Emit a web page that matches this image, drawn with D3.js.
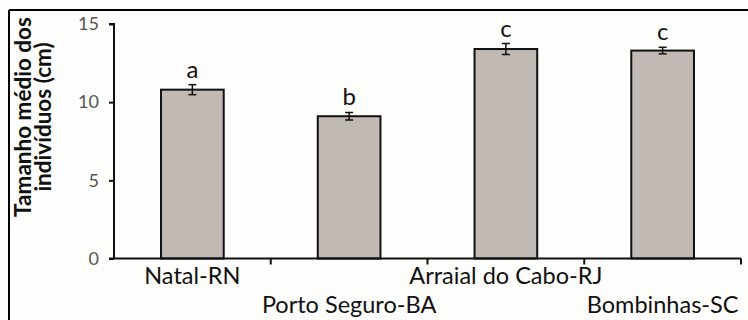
<!DOCTYPE html>
<html lang="pt">
<head>
    <meta charset="UTF-8">
    <style>
        body { margin: 0; background: #fdfdfb; }
        svg { display: block; font-family: Lato, "Open Sans", sans-serif; }
        .bars rect { fill: #c1b9b4; stroke: #111; stroke-width: 2px; }
        .err line { stroke: #111; stroke-width: 1.5px; }
    </style>
    <title>Tamanho médio</title>
</head>
<body>
<script src="https://d3js.org/d3.v7.min.js"></script>
<script>
    // data
    var sites = ['Natal-RN', 'Porto Seguro-BA', 'Arraial do Cabo-RJ', 'Bombinhas-SC'];
    var means = [10.8, 9.1, 13.4, 13.3];
    var errors = [0.32, 0.24, 0.35, 0.21];
    var groups = ['a', 'b', 'c', 'c'];
    var yTicks = [0, 5, 10, 15];

    var width = 748, height = 320;
    var margin = {left: 114, right: 7, top: 24, bottom: 61.5};

    var svg = d3.select('body').append('svg')
        .attr('width', width)
        .attr('height', height);

    // frame (left and top edges only visible)
    svg.append('line').attr('x1', 9).attr('x2', 9).attr('y1', 10).attr('y2', height)
        .attr('stroke', '#000').attr('stroke-width', 2);
    svg.append('line').attr('x1', 9).attr('x2', width).attr('y1', 10).attr('y2', 10)
        .attr('stroke', '#000').attr('stroke-width', 2);

    var x = d3.scaleBand()
        .domain(sites)
        .range([margin.left, width - margin.right])
        .paddingInner(0.6)
        .paddingOuter(0.3);

    var y = d3.scaleLinear()
        .domain([0, 15])
        .range([height - margin.bottom, margin.top]);

    svg.append('g').attr('class', 'bars')
        .selectAll('rect')
        .data(sites)
        .enter()
        .append('rect')
        .attr('x', function (d) { return x(d); })
        .attr('width', x.bandwidth())
        .attr('y', function (d, i) { return y(means[i]); })
        .attr('height', function (d, i) { return y(0) - y(means[i]); });

    var err = svg.append('g').attr('class', 'err')
        .selectAll('g')
        .data(sites)
        .enter()
        .append('g');

    err.append('line')
        .attr('x1', function (d) { return x(d) + x.bandwidth() / 2; })
        .attr('x2', function (d) { return x(d) + x.bandwidth() / 2; })
        .attr('y1', function (d, i) { return y(means[i] + errors[i]); })
        .attr('y2', function (d, i) { return y(means[i] - errors[i]); });
    [1, -1].forEach(function (s) {
        err.append('line')
            .attr('x1', function (d) { return x(d) + x.bandwidth() / 2 - 4; })
            .attr('x2', function (d) { return x(d) + x.bandwidth() / 2 + 4; })
            .attr('y1', function (d, i) { return y(means[i] + s * errors[i]); })
            .attr('y2', function (d, i) { return y(means[i] + s * errors[i]); });
    });

    svg.append('g')
        .selectAll('text')
        .data(sites)
        .enter()
        .append('text')
        .attr('x', function (d) { return x(d) + x.bandwidth() / 2; })
        .attr('y', function (d, i) { return y(means[i] + errors[i]) - 7; })
        .attr('text-anchor', 'middle')
        .style('font-size', '24px')
        .style('fill', '#111')
        .text(function (d, i) { return groups[i]; });

    // y axis
    var yAxis = svg.append('g')
        .attr('transform', 'translate(' + margin.left + ',0)')
        .call(d3.axisLeft(y).tickValues(yTicks).tickSize(5).tickPadding(10));
    yAxis.select('.domain').attr('stroke', '#111').attr('stroke-width', 2)
        .attr('d', 'M-5,' + y(15) + 'H0V' + y(0));
    yAxis.selectAll('.tick line').attr('stroke', '#111').attr('stroke-width', 2);
    yAxis.selectAll('.tick text')
        .style('font-family', 'Lato, sans-serif')
        .style('font-size', '18px')
        .style('fill', '#555');

    // x axis with category boundary ticks
    var xAxis = svg.append('g')
        .attr('transform', 'translate(0,' + y(0) + ')');
    xAxis.append('line')
        .attr('x1', margin.left - 5).attr('x2', width - margin.right)
        .attr('stroke', '#111').attr('stroke-width', 2);
    var step = x.step();
    var bounds = sites.map(function (d) { return x(d) + x.bandwidth() / 2 + step / 2; });
    xAxis.selectAll('.bt')
        .data(bounds)
        .enter()
        .append('line')
        .attr('x1', function (d) { return d; })
        .attr('x2', function (d) { return d; })
        .attr('y1', 0).attr('y2', 6)
        .attr('stroke', '#111').attr('stroke-width', 2);

    xAxis.selectAll('.lbl')
        .data(sites)
        .enter()
        .append('text')
        .attr('x', function (d) { return x(d) + x.bandwidth() / 2; })
        .attr('y', function (d, i) { return i % 2 === 0 ? 25 : 54; })
        .attr('text-anchor', 'middle')
        .style('font-size', '23.5px')
        .style('fill', '#111')
        .text(function (d) { return d; });

    // y title
    var title = svg.append('text')
        .attr('transform', 'translate(31,' + 117 + ') rotate(-90)')
        .attr('text-anchor', 'middle')
        .style('font-size', '22.5px')
        .style('font-weight', 'bold')
        .style('fill', '#111');
    title.append('tspan').attr('x', 0).attr('dy', 0).text('Tamanho médio dos');
    title.append('tspan').attr('x', 0).attr('dy', 20).text('indivíduos (cm)');
</script>
</body>
</html>
